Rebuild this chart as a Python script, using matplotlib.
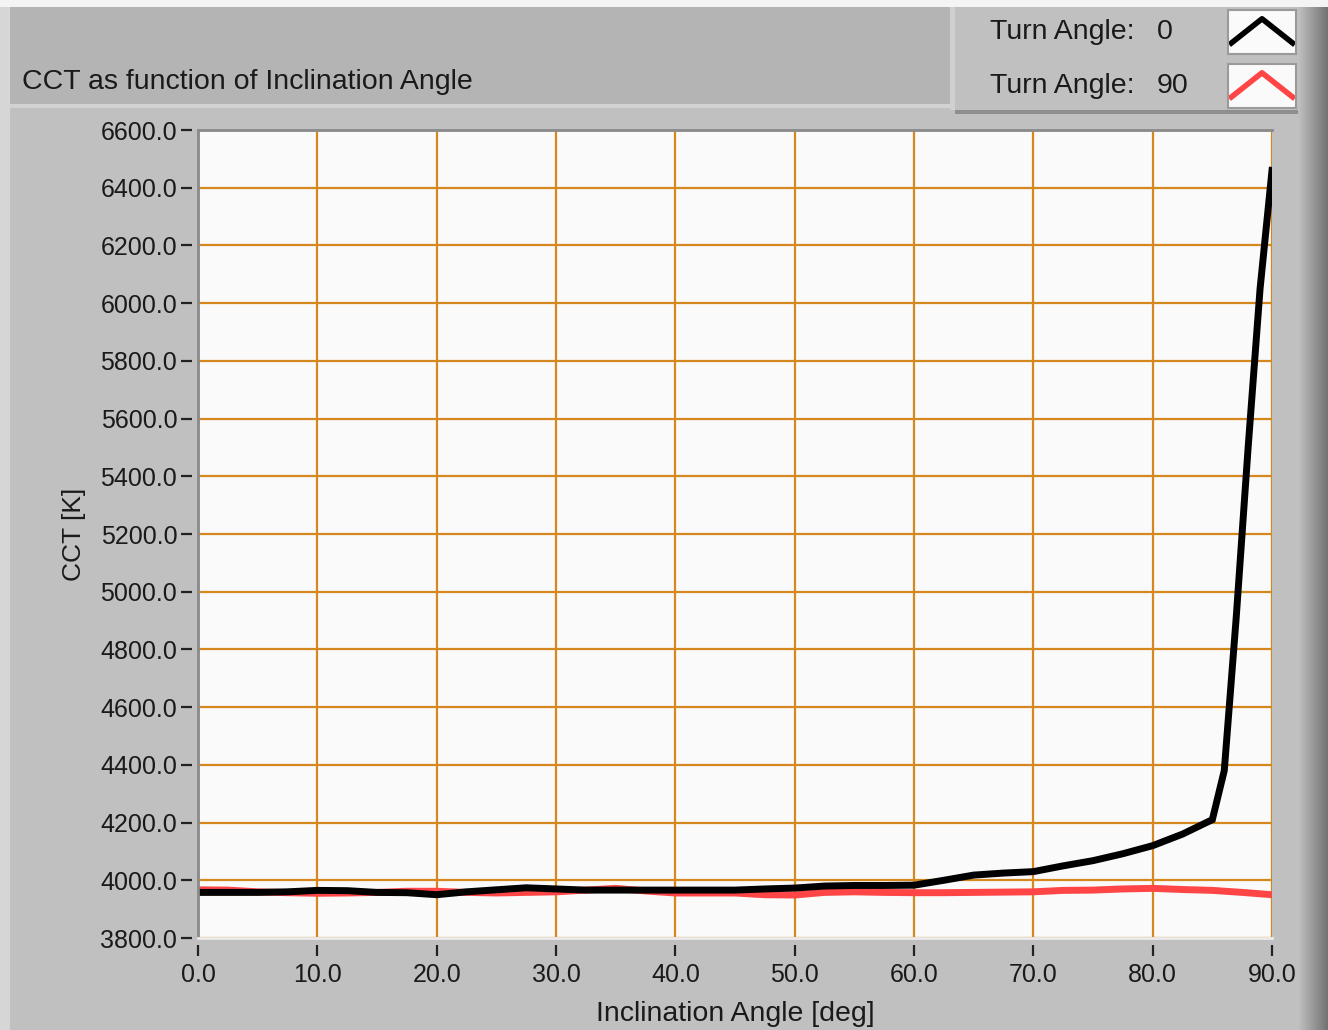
import numpy as np
import matplotlib
matplotlib.use('Agg')
from matplotlib import pyplot as plt
from matplotlib.patches import Rectangle
from matplotlib.lines import Line2D

# data
angle = [0, 2.5, 5, 7.5, 10, 12.5, 15, 17.5, 20, 22.5, 25, 27.5, 30, 32.5, 35,
         37.5, 40, 42.5, 45, 47.5, 50, 52.5, 55, 57.5, 60, 62.5, 65, 67.5, 70,
         72.5, 75, 77.5, 80, 82.5, 85, 86, 87, 88, 89, 90]
cct_turn0 = [3958, 3958, 3958, 3960, 3965, 3964, 3958, 3957, 3950, 3960, 3967,
             3974, 3970, 3966, 3966, 3966, 3966, 3966, 3966, 3970, 3973, 3980,
             3982, 3982, 3983, 4000, 4018, 4025, 4030, 4050, 4068, 4092, 4120,
             4160, 4210, 4380, 4910, 5500, 6050, 6460]

angle_90 = [0, 2.5, 5, 7.5, 10, 12.5, 15, 17.5, 20, 22.5, 25, 27.5, 30, 32.5,
            35, 37.5, 40, 42.5, 45, 47.5, 50, 52.5, 55, 57.5, 60, 62.5, 65,
            67.5, 70, 72.5, 75, 77.5, 80, 82.5, 85, 87.5, 90]
cct_turn90 = [3967, 3966, 3960, 3957, 3955, 3956, 3958, 3962, 3962, 3958, 3956,
              3958, 3960, 3966, 3972, 3963, 3956, 3956, 3956, 3950, 3949, 3958,
              3960, 3958, 3957, 3957, 3958, 3959, 3960, 3965, 3966, 3970, 3972,
              3968, 3965, 3958, 3950]

legend_labels = ['Turn Angle:', 'Turn Angle:']
legend_values = ['0', '90']
colors = ['#000000', '#ff4545']

plt.rcParams['font.family'] = ['Liberation Sans', 'DejaVu Sans']

W, H = 1328, 1030
TXT = '#1a1a1a'


def fr(x, y):
    # pixel (from top-left) -> figure fraction
    return x / W, 1 - y / H


def rect(fig, x0, y0, x1, y1, color):
    fx, fy = fr(x0, y1)
    fig.patches.append(Rectangle((fx, fy), (x1 - x0) / W, (y1 - y0) / H,
                                 transform=fig.transFigure, facecolor=color,
                                 edgecolor='none', zorder=-5))


fig = plt.figure(figsize=(W / 100, H / 100), dpi=100, facecolor='#c0c0c0')

# panel decoration
rect(fig, 0, 0, W, 7, '#f4f4f4')
rect(fig, 0, 7, 10, H, '#d6d6d6')
rect(fig, 10, 7, 950, 104, '#b4b4b4')
rect(fig, 10, 104, 950, 108, '#d2d2d2')
rect(fig, 950, 7, 1300, 112, '#c0c0c0')
rect(fig, 955, 110, 1300, 114, '#8e8e8e')
rect(fig, 950, 7, 955, 110, '#d0d0d0')
grad = fig.add_axes([1298 / W, 0, 30 / W, 1 - 7 / H], zorder=-4)
grad.imshow(np.linspace(0.75, 0.45, 30)[None, :], aspect='auto', cmap='gray',
            vmin=0, vmax=1)
grad.axis('off')

fig.text(*fr(22, 82), 'CCT as function of Inclination Angle', fontsize=20.5,
         color=TXT, va='center', ha='left')

# legend
for i in range(2):
    yc = 32 + i * 54
    fig.text(*fr(990, yc), legend_labels[i], fontsize=20.5, color=TXT,
             va='center', ha='left')
    fig.text(*fr(1157, yc), legend_values[i], fontsize=20.5, color=TXT,
             va='center', ha='left')
    sw = fig.add_axes([1228 / W, 1 - (yc + 22) / H, 68 / W, 44 / H], zorder=2)
    sw.set_facecolor('#fafafa')
    sw.plot([0.05, 0.5, 0.95], [0.25, 0.8, 0.25], color=colors[i], lw=4)
    sw.set_xlim(0, 1)
    sw.set_ylim(0, 1)
    sw.set_xticks([])
    sw.set_yticks([])
    for s in sw.spines.values():
        s.set_color('#9a9a9a')
        s.set_linewidth(1.5)

# main plot
ax = fig.add_axes([198 / W, 1 - 938 / H, (1272 - 198) / W, (938 - 130) / H])
ax.set_facecolor('#fafafa')
ax.plot(angle_90, cct_turn90, color=colors[1], lw=5, zorder=3,
        solid_joinstyle='miter')
ax.plot(angle, cct_turn0, color=colors[0], lw=5, zorder=4,
        solid_joinstyle='miter')
ax.set_xlim(0, 90)
ax.set_ylim(3800, 6600)
ax.set_xticks(np.arange(0, 91, 10))
ax.set_yticks(np.arange(3800, 6601, 200))
ax.xaxis.set_major_formatter('{x:.1f}')
ax.yaxis.set_major_formatter('{x:.1f}')
ax.grid(True, color='#d4881e', lw=1.6, zorder=1)
ax.tick_params(direction='out', length=8, width=1.6, color='#222222',
               labelsize=18, labelcolor=TXT, pad=3)
ax.tick_params(axis='x', pad=5)
ax.spines['left'].set_position(('outward', 4))
ax.spines['bottom'].set_position(('outward', 5))
ax.spines['left'].set_visible(False)
ax.spines['bottom'].set_visible(False)
ax.spines['right'].set_visible(False)
ax.spines['top'].set_color('#8a8a8a')
ax.spines['top'].set_linewidth(2)
ax.add_line(Line2D([0, 0], [0, 1], transform=ax.transAxes, color='#8a8a8a',
                   lw=2, zorder=5, clip_on=False))
ax.add_line(Line2D([0, 1], [0, 0], transform=ax.transAxes, color='#ececec',
                   lw=2, zorder=5, clip_on=False))
ax.set_xlabel('Inclination Angle [deg]', fontsize=20.5, color=TXT, labelpad=10)
ax.set_ylabel('CCT [K]', fontsize=19, color=TXT, labelpad=10)

fig.savefig('out.png', dpi=100, facecolor=fig.get_facecolor())
